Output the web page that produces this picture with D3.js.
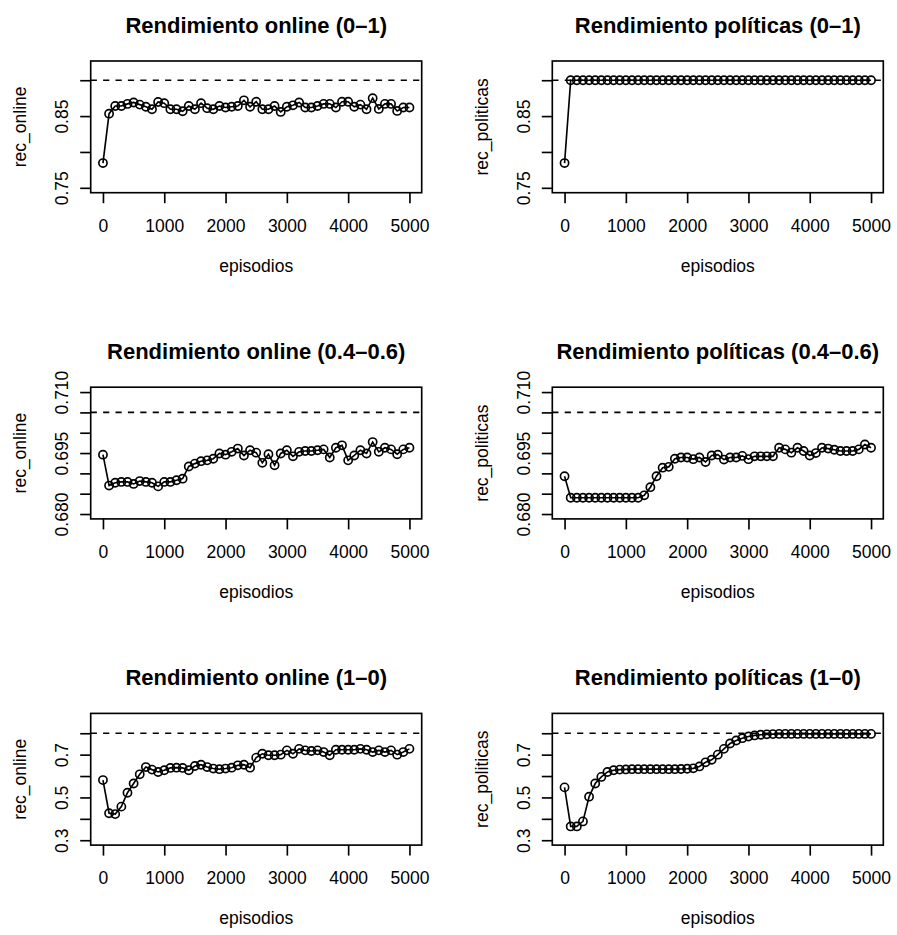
<!DOCTYPE html>
<html>
<head>
<meta charset="utf-8">
<script src="https://cdn.jsdelivr.net/npm/d3@7"></script>
<style>
body { margin: 0; background: #fff; }
svg { display: block; }
</style>
</head>
<body>
<script>
var episodios = [0, 100, 200, 300, 400, 500, 600, 700, 800, 900,
    1000, 1100, 1200, 1300, 1400, 1500, 1600, 1700, 1800, 1900,
    2000, 2100, 2200, 2300, 2400, 2500, 2600, 2700, 2800, 2900,
    3000, 3100, 3200, 3300, 3400, 3500, 3600, 3700, 3800, 3900,
    4000, 4100, 4200, 4300, 4400, 4500, 4600, 4700, 4800, 4900, 5000];

// rendimiento (0-1)
var onlineA = [0.7845, 0.8534, 0.864, 0.864, 0.867, 0.869, 0.866, 0.863, 0.8595, 0.8697,
    0.868, 0.8595, 0.8595, 0.8567, 0.864, 0.8595, 0.868, 0.861, 0.8595, 0.864,
    0.862, 0.863, 0.864, 0.872, 0.863, 0.870, 0.8595, 0.8595, 0.864, 0.8558,
    0.863, 0.865, 0.869, 0.862, 0.862, 0.864, 0.867, 0.867, 0.862, 0.870,
    0.870, 0.863, 0.866, 0.8595, 0.875, 0.860, 0.867, 0.867, 0.8572, 0.862, 0.862];
var politicasA = [0.7845, 0.9, 0.9, 0.9, 0.9, 0.9, 0.9, 0.9, 0.9, 0.9,
    0.9, 0.9, 0.9, 0.9, 0.9, 0.9, 0.9, 0.9, 0.9, 0.9,
    0.9, 0.9, 0.9, 0.9, 0.9, 0.9, 0.9, 0.9, 0.9, 0.9,
    0.9, 0.9, 0.9, 0.9, 0.9, 0.9, 0.9, 0.9, 0.9, 0.9,
    0.9, 0.9, 0.9, 0.9, 0.9, 0.9, 0.9, 0.9, 0.9, 0.9, 0.9];

// rendimiento (0.4-0.6)
var onlineB = [0.6946, 0.6870, 0.6877, 0.6879, 0.6879, 0.6874, 0.6881, 0.6879, 0.6877, 0.6868,
    0.6879, 0.6879, 0.6883, 0.6887, 0.6917, 0.6924, 0.6930, 0.6932, 0.6936, 0.6949,
    0.6946, 0.6953, 0.6961, 0.6944, 0.6957, 0.6951, 0.6926, 0.6947, 0.6920, 0.6949,
    0.6957, 0.6942, 0.6953, 0.6955, 0.6955, 0.6957, 0.6959, 0.6939, 0.6963, 0.6969,
    0.6932, 0.6944, 0.6957, 0.6949, 0.6977, 0.6953, 0.6963, 0.6959, 0.6947, 0.6959, 0.6963];
var politicasB = [0.6893, 0.6840, 0.6840, 0.6840, 0.6840, 0.6840, 0.6840, 0.6840, 0.6840, 0.6840,
    0.6840, 0.6840, 0.6840, 0.6846, 0.6866, 0.6893, 0.6914, 0.6916, 0.6936, 0.6939,
    0.6939, 0.6935, 0.6939, 0.6928, 0.6944, 0.6946, 0.6934, 0.6939, 0.6939, 0.6943,
    0.6935, 0.6942, 0.6942, 0.6942, 0.6942, 0.6963, 0.6959, 0.6951, 0.6963, 0.6955,
    0.6944, 0.6950, 0.6963, 0.6961, 0.6958, 0.6955, 0.6955, 0.6955, 0.6959, 0.6971, 0.6963];

// rendimiento (1-0)
var onlineC = [0.581, 0.426, 0.422, 0.457, 0.522, 0.565, 0.608, 0.642, 0.630, 0.619,
    0.627, 0.638, 0.639, 0.638, 0.627, 0.647, 0.653, 0.642, 0.635, 0.632,
    0.635, 0.639, 0.650, 0.653, 0.639, 0.686, 0.704, 0.697, 0.697, 0.700,
    0.720, 0.704, 0.727, 0.720, 0.717, 0.720, 0.712, 0.697, 0.723, 0.723,
    0.723, 0.723, 0.727, 0.723, 0.712, 0.720, 0.712, 0.720, 0.700, 0.712, 0.727];
var politicasC = [0.547, 0.3645, 0.3645, 0.388, 0.5035, 0.565, 0.596, 0.619, 0.627, 0.630,
    0.631, 0.632, 0.632, 0.632, 0.632, 0.632, 0.632, 0.632, 0.632, 0.633,
    0.634, 0.636, 0.645, 0.664, 0.676, 0.700, 0.727, 0.752, 0.766, 0.777,
    0.785, 0.790, 0.793, 0.795, 0.796, 0.797, 0.797, 0.797, 0.797, 0.797,
    0.797, 0.797, 0.797, 0.797, 0.797, 0.797, 0.797, 0.797, 0.797, 0.797, 0.797];

var titles = ['Rendimiento online (0–1)', 'Rendimiento políticas (0–1)',
    'Rendimiento online (0.4–0.6)', 'Rendimiento políticas (0.4–0.6)',
    'Rendimiento online (1–0)', 'Rendimiento políticas (1–0)'];
var yTitles = ['rec_online', 'rec_politicas'];
var xTitle = 'episodios';
var refLines = [0.9, 0.705, 0.8];

var xLim = [0, 5000];
var xTicks = [0, 1000, 2000, 3000, 4000, 5000];
var yLims = [[0.75, 0.92], [0.68, 0.71], [0.3, 0.87]];
var yTicks = [[0.75, 0.80, 0.85, 0.90],
    [0.680, 0.685, 0.690, 0.695, 0.700, 0.705, 0.710],
    [0.3, 0.4, 0.5, 0.6, 0.7, 0.8]];
var yTickLabels = [['0.75', '', '0.85', ''],
    ['0.680', '', '', '0.695', '', '', '0.710'],
    ['0.3', '', '0.5', '', '0.7', '']];

var width = 897;
var height = 935;
var font = '"Liberation Sans", Arial, Helvetica, sans-serif';
var lw = 1.65;

var panel = {
    left: 90.7,
    top: 61,
    width: 331,
    height: 131.7,
    dx: 461.6,
    dy: 326.2
};

var series = [onlineA, politicasA, onlineB, politicasB, onlineC, politicasC];

var svg = d3.select('body').append('svg')
    .attr('width', width)
    .attr('height', height)
    .style('font-family', font);

series.forEach(function(values, k) {
    var row = Math.floor(k / 2);
    var col = k % 2;
    var w = panel.width, h = panel.height;
    var lim = yLims[row];
    var ypad = (lim[1] - lim[0]) * 0.04;
    var xpad = (xLim[1] - xLim[0]) * 0.04;

    var x = d3.scaleLinear()
        .domain([xLim[0] - xpad, xLim[1] + xpad])
        .range([0, w]);
    var y = d3.scaleLinear()
        .domain([lim[0] - ypad, lim[1] + ypad])
        .range([h, 0]);

    var g = svg.append('g')
        .attr('transform', 'translate(' + (panel.left + col * panel.dx) + ',' + (panel.top + row * panel.dy) + ')');

    var pts = values.map(function(v, i) { return [episodios[i], v]; });

    var line = d3.line()
        .x(function(d) { return x(d[0]); })
        .y(function(d) { return y(d[1]); });

    // reference (dashed)
    g.append('line')
        .attr('x1', 0).attr('x2', w)
        .attr('y1', y(refLines[row])).attr('y2', y(refLines[row]))
        .attr('stroke', '#000')
        .attr('stroke-width', lw)
        .attr('stroke-dasharray', '6.2,6.2');

    g.append('path')
        .attr('d', line(pts))
        .attr('fill', 'none')
        .attr('stroke', '#000')
        .attr('stroke-width', lw);

    g.selectAll('circle').data(pts).enter().append('circle')
        .attr('cx', function(d) { return x(d[0]); })
        .attr('cy', function(d) { return y(d[1]); })
        .attr('r', 4.1)
        .attr('fill', 'none')
        .attr('stroke', '#000')
        .attr('stroke-width', lw);

    g.append('rect')
        .attr('width', w).attr('height', h)
        .attr('fill', 'none')
        .attr('stroke', '#000')
        .attr('stroke-width', lw);

    var xAxis = d3.axisBottom(x)
        .tickValues(xTicks)
        .tickFormat(d3.format('d'))
        .tickSize(10.5)
        .tickSizeOuter(0);
    var gx = g.append('g')
        .attr('transform', 'translate(0,' + h + ')')
        .call(xAxis)
        .attr('font-family', null)
        .attr('font-size', 17.5);
    gx.select('.domain').remove();
    gx.selectAll('line').attr('stroke-width', lw);
    gx.selectAll('text').attr('y', 39).attr('dy', null);

    var labels = yTickLabels[row];
    var yAxis = d3.axisLeft(y)
        .tickValues(yTicks[row])
        .tickFormat(function(d, i) { return labels[i]; })
        .tickSize(10.5)
        .tickSizeOuter(0);
    var gy = g.append('g')
        .call(yAxis)
        .attr('font-family', null)
        .attr('font-size', 17.5);
    gy.select('.domain').remove();
    gy.selectAll('line').attr('stroke-width', lw);
    gy.selectAll('text')
        .attr('x', null)
        .attr('dy', null)
        .attr('text-anchor', 'middle')
        .attr('transform', 'translate(-22.4,0) rotate(-90)');

    g.append('text')
        .attr('x', w / 2).attr('y', -28)
        .attr('text-anchor', 'middle')
        .attr('font-size', 22)
        .attr('font-weight', 'bold')
        .text(titles[k]);

    g.append('text')
        .attr('x', w / 2).attr('y', h + 79)
        .attr('text-anchor', 'middle')
        .attr('font-size', 17.5)
        .text(xTitle);

    g.append('text')
        .attr('transform', 'translate(-64.6,' + (h / 2) + ') rotate(-90)')
        .attr('text-anchor', 'middle')
        .attr('font-size', 17.5)
        .text(yTitles[col]);
});
</script>
</body>
</html>
